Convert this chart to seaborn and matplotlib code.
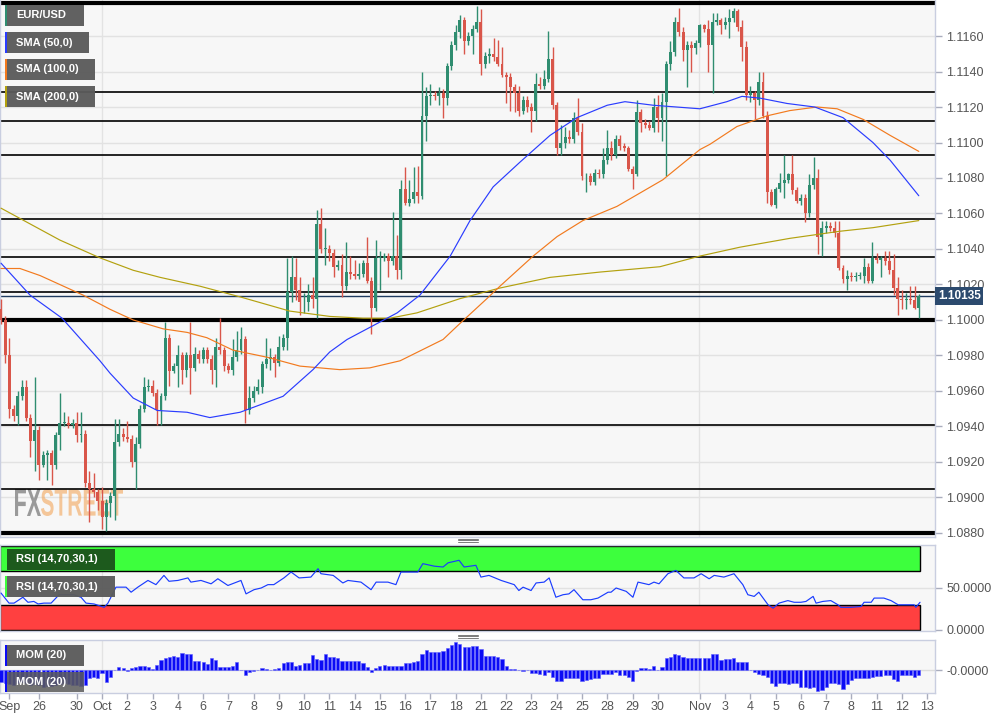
import numpy as np
import pandas as pd
import seaborn as sns
import matplotlib.pyplot as plt
from matplotlib.patches import Rectangle, PathPatch
from matplotlib.lines import Line2D
from matplotlib.textpath import TextPath
from matplotlib.font_manager import FontProperties
from matplotlib.transforms import Affine2D, blended_transform_factory

sns.set_theme(style="white")
plt.rcParams['font.family'] = ['Liberation Sans', 'DejaVu Sans']

# ---- EUR/USD 4h candles ----
first_open = 1.1006
closes = [
    1.1000, 1.0980, 1.0950, 1.0946, 1.0957, 1.0962, 1.0945, 1.0932, 1.0938, 1.0918,
    1.0924, 1.0925, 1.0918, 1.0935, 1.0942, 1.0942, 1.0941, 1.0942, 1.0935, 1.0936,
    1.0908, 1.0905, 1.0903, 1.0898, 1.0889, 1.0897, 1.0901, 1.0931, 1.0936, 1.0934,
    1.0933, 1.0920, 1.0930, 1.0950, 1.0962, 1.0963, 1.0959, 1.0949, 1.0957, 1.0990,
    1.0971, 1.0974, 1.0980, 1.0972, 1.0980, 1.0973, 1.0981, 1.0978, 1.0983, 1.0978,
    1.0972, 1.0985, 1.0983, 1.0974, 1.0972, 1.0979, 1.0983, 1.0989, 1.0949, 1.0956,
    1.0960, 1.0962, 1.0975, 1.0978, 1.0979, 1.0976, 1.0985, 1.0990, 1.1016, 1.1024,
    1.1017, 1.1010, 1.1010, 1.1014, 1.1012, 1.1054, 1.1040, 1.1040, 1.1038, 1.1030,
    1.1031, 1.1019, 1.1027, 1.1026, 1.1025, 1.1026, 1.1032, 1.1022, 1.1007, 1.1035,
    1.1035, 1.1036, 1.1033, 1.1036, 1.1028, 1.1074, 1.1066, 1.1068, 1.1072, 1.1070,
    1.1115, 1.1126, 1.1127, 1.1126, 1.1128, 1.1125, 1.1143, 1.1155, 1.1162, 1.1169,
    1.1157, 1.1160, 1.1164, 1.1168, 1.1144, 1.1149, 1.1150, 1.1148, 1.1144, 1.1138,
    1.1137, 1.1131, 1.1128, 1.1118, 1.1124, 1.1120, 1.1118, 1.1133, 1.1132, 1.1136,
    1.1147, 1.1121, 1.1097, 1.1100, 1.1103, 1.1102, 1.1114, 1.1106, 1.1081, 1.1081,
    1.1078, 1.1083, 1.1082, 1.1090, 1.1097, 1.1093, 1.1102, 1.1098, 1.1097, 1.1085,
    1.1082, 1.1117, 1.1111, 1.1110, 1.1108, 1.1120, 1.1114, 1.1123, 1.1144, 1.1151,
    1.1168, 1.1162, 1.1152, 1.1155, 1.1153, 1.1156, 1.1166, 1.1164, 1.1155, 1.1168,
    1.1169, 1.1166, 1.1168, 1.1170, 1.1174, 1.1165, 1.1154, 1.1127, 1.1128, 1.1124,
    1.1134, 1.1115, 1.1072, 1.1065, 1.1074, 1.1077, 1.1079, 1.1082, 1.1073, 1.1067,
    1.1069, 1.1060, 1.1076, 1.1080, 1.1047, 1.1052, 1.1053, 1.1052, 1.1049, 1.1029,
    1.1023, 1.1025, 1.1024, 1.1025, 1.1025, 1.1030, 1.1022, 1.1035, 1.1034, 1.1035,
    1.1033, 1.1028, 1.1018, 1.1012, 1.1011, 1.1012, 1.1011, 1.1007, 1.10135,
]
# upper / lower wick length beyond the body, in pips
wick_up = [
    6, 2, 10, 2, 3, 4, 4, 2, 30, 2,
    2, 2, 2, 2, 17, 6, 4, 2, 6, 12,
    2, 7, 9, 2, 8, 2, 2, 13, 8, 3,
    9, 2, 4, 2, 6, 4, 3, 2, 2, 9,
    2, 2, 6, 2, 2, 19, 4, 2, 2, 2,
    2, 5, 16, 2, 2, 10, 11, 7, 2, 7,
    3, 5, 2, 12, 5, 2, 6, 2, 19, 12,
    11, 7, 5, 6, 10, 8, 9, 12, 2, 2,
    3, 6, 17, 9, 8, 6, 2, 15, 2, 10,
    4, 2, 2, 25, 12, 5, 12, 11, 14, 15,
    25, 5, 6, 2, 3, 2, 2, 2, 4, 3,
    2, 2, 2, 9, 7, 2, 3, 9, 10, 10,
    2, 2, 2, 4, 2, 2, 2, 6, 4, 5,
    16, 7, 2, 10, 6, 4, 3, 11, 5, 2,
    2, 2, 2, 7, 10, 4, 2, 2, 2, 1,
    2, 7, 2, 2, 2, 5, 7, 5, 2, 6,
    3, 8, 3, 2, 2, 2, 1, 1, 5, 5,
    4, 1, 3, 5, 2, 1, 4, 3, 4, 1,
    6, 6, 3, 2, 1, 6, 14, 1, 11, 2,
    2, 2, 6, 12, 5, 4, 3, 2, 4, 7,
    2, 3, 2, 2, 2, 5, 2, 9, 3, 1,
    4, 6, 9, 6, 5, 3, 7, 8, 1,
]
wick_dn = [
    2, 4, 5, 3, 5, 2, 2, 9, 17, 8,
    1, 14, 11, 2, 8, 2, 2, 2, 4, 4,
    2, 19, 3, 5, 7, 8, 8, 14, 2, 2,
    2, 3, 15, 2, 2, 2, 2, 8, 8, 2,
    8, 1, 12, 8, 4, 15, 2, 2, 2, 2,
    8, 10, 2, 3, 2, 3, 2, 2, 7, 2,
    2, 2, 3, 2, 6, 8, 2, 2, 7, 6,
    6, 7, 6, 5, 5, 11, 2, 9, 5, 6,
    2, 6, 2, 3, 2, 2, 2, 1, 15, 2,
    18, 2, 9, 2, 5, 5, 1, 2, 2, 4,
    2, 14, 5, 2, 5, 11, 4, 2, 3, 3,
    7, 2, 10, 2, 6, 2, 4, 2, 1, 1,
    15, 13, 11, 3, 2, 3, 12, 6, 2, 2,
    2, 2, 4, 4, 3, 2, 2, 2, 2, 9,
    2, 2, 2, 2, 2, 3, 2, 2, 2, 1,
    8, 1, 5, 2, 1, 2, 8, 13, 42, 3,
    2, 2, 6, 21, 13, 3, 2, 2, 15, 27,
    2, 5, 2, 9, 2, 2, 8, 3, 4, 11,
    3, 1, 6, 1, 2, 2, 8, 2, 2, 1,
    2, 5, 2, 2, 10, 11, 3, 2, 2, 1,
    2, 6, 2, 2, 2, 4, 1, 1, 2, 10,
    2, 2, 4, 9, 5, 5, 2, 1, 6,
]

# ---- moving averages (candle index, price) ----
sma50_x = [0, 6.9, 14.5, 23.5, 25.9, 31.4, 37.1, 44.2, 49.6, 56.8, 67.0, 74.1, 78.1, 82.2,
           94.1, 99.5, 106.7, 111.4, 116.9, 123.3, 130.4, 136.8, 144.0, 148.2, 154.9, 166.0,
           172.4, 176.0, 180.3, 186.7, 193.3, 200.0, 207.1, 211.2, 218.0]
sma50_y = [1.1032, 1.1014, 1.1001, 1.0977, 1.0970, 1.0956, 1.0949, 1.0948, 1.0945, 1.0948,
           1.0957, 1.0972, 1.0982, 1.0989, 1.1004, 1.1014, 1.1036, 1.1056, 1.1075, 1.1089,
           1.1104, 1.1114, 1.1121, 1.1123, 1.1121, 1.1119, 1.1123, 1.1126, 1.1125, 1.1122,
           1.1120, 1.1114, 1.1100, 1.1090, 1.1070]
sma100_x = [0, 4.5, 9.3, 19.5, 25.9, 31.4, 38.5, 44.2, 48.9, 55.1, 63.2, 71.0, 80.5, 87.6,
            94.8, 105.0, 109.0, 115.4, 118.5, 126.4, 132.1, 138.2, 146.3, 157.2, 166.0,
            168.4, 174.8, 181.9, 187.4, 193.8, 198.6, 204.8, 211.2, 218.0]
sma100_y = [1.1029, 1.1029, 1.1025, 1.1014, 1.1006, 1.1000, 1.0995, 1.0993, 1.0990, 1.0983,
            1.0979, 1.0974, 1.0972, 1.0973, 1.0977, 1.0989, 1.0998, 1.1012, 1.1019, 1.1036,
            1.1047, 1.1056, 1.1064, 1.1079, 1.1096, 1.1099, 1.1109, 1.1115, 1.1118, 1.1120,
            1.1119, 1.1113, 1.1104, 1.1095]
sma200_x = [0, 14.0, 23.5, 31.4, 37.8, 47.3, 56.8, 68.6, 78.1, 86.0, 92.4, 98.8, 109.0,
            118.5, 130.4, 142.3, 156.5, 166.0, 175.5, 187.4, 199.3, 207.1, 218.0]
sma200_y = [1.1063, 1.1045, 1.1035, 1.1028, 1.1024, 1.1019, 1.1013, 1.1005, 1.1002, 1.1001,
            1.1001, 1.1004, 1.1012, 1.1018, 1.1024, 1.1027, 1.1030, 1.1036, 1.1041, 1.1046,
            1.1050, 1.1052, 1.1056]

# ---- RSI (14) ----
rsi_x = [0, 1.9, 3.1, 5.2, 6.4, 7.8, 8.8, 10.2, 11.9, 13.8, 17.3, 19, 20.2, 22.1, 24.5, 25.4,
         27.3, 29.7, 30.9, 32.5, 34.9, 36.8, 38.7, 39.9, 42, 44.4, 45.1, 47.5, 49.9, 51.5,
         53.9, 57, 58.2, 60.1, 61.8, 63.4, 64.8, 67.2, 68.9, 70.8, 73.6, 75.3, 76, 78.9,
         81.2, 82.4, 85.5, 87.9, 89.1, 91.9, 93.8, 95, 99, 100.2, 102.9, 105, 106.2, 108.8,
         110, 112.8, 114, 115.9, 118.8, 121.9, 123, 124, 125.9, 127.1, 129, 130.2, 131.8,
         133.5, 134.9, 136.1, 138.2, 140.1, 141.8, 144.2, 144.9, 146.1, 148.5, 150.1, 151.3,
         153.9, 155.1, 156.3, 158.4, 160.3, 162.2, 164.6, 166.3, 168.2, 169.4, 171.7, 174.1,
         176.2, 177.4, 178.9, 180, 182.2, 183.4, 184.8, 186.9, 188.4, 190, 191.2, 192.9,
         193.6, 195.2, 197.1, 198.8, 199.5, 201.9, 204.3, 205, 206.7, 207.4, 209.7, 211.4,
         213.1, 215.4, 216.9, 217.3, 218.3]
rsi_v = [44, 32, 32, 39, 33, 34, 31, 32, 32, 42, 42, 39, 32, 31, 27, 32,
         51, 51, 45, 51, 59, 54, 65, 58, 59, 62, 57, 59, 55, 61,
         53, 59, 43, 48, 50, 54, 54, 62, 69, 62, 63, 73, 67, 65,
         56, 59, 57, 48, 57, 57, 54, 69, 69, 79, 76, 75, 80, 83,
         75, 77, 63, 65, 59, 54, 47, 51, 47, 56, 57, 62, 39,
         42, 43, 48, 36, 36, 38, 45, 45, 50, 46, 39, 57,
         54, 57, 55, 67, 71, 62, 62, 67, 61, 65, 63, 67,
         54, 42, 40, 45, 30, 26, 32, 35, 33, 33, 34, 40,
         32, 34, 35, 30, 27, 27, 28, 33, 33, 38, 38, 35,
         30, 30, 30, 27, 33]

# ---- Momentum (20), in units of 0.001 ----
mom = [
    -5.5, -6, -6.5, -7, -6, -5.5, -6, -7, -6.5, -7,
    -8, -7.5, -7.5, -7, -6.5, -6, -6.5, -7, -7, -7.5,
    -7, -4, -3.2, -4, -1.6, -5.6, -3.2, -0.2, 1.6, 1.1,
    -0.3, 0.8, 1.3, 1.9, 1.9, 1.6, 0.3, 2.4, 4.8, 5.6,
    6.3, 6.8, 6.3, 7.9, 7.6, 7.6, 4.3, 4.3, 4, 2.9,
    5.9, 4.8, 1.6, 1.3, 1.6, 2.1, 4, -0.2, -2.4, -0.8,
    -0.5, -0.2, 0.8, 0.3, -0.2, 0.3, 1.1, 3.5, 4, 4,
    2.1, 2.4, 3.5, 3.5, 7.1, 5.2, 4.8, 7.8, 6.3, 6.3,
    5.6, 4.4, 4.4, 4.4, 4.4, 4.4, 3.2, 1.6, -0.8, 1.1,
    1.9, 2.4, 1.9, 1.9, 1.9, 1.9, 3.5, 3.5, 4, 4.4,
    7.5, 9.5, 8.7, 8.7, 8.7, 9.2, 10.3, 11.9, 13.5, 12.2,
    10.8, 10.8, 11.4, 11.4, 10, 6.8, 6.8, 6.8, 6, 5.2,
    2, 0.5, 0.3, -0.2, -0.3, -0.2, -1.6, -1.6, -2.1, -2.4,
    -0.8, -3.2, -5.2, -5.2, -3.7, -3.7, -4, -3.7, -5, -4.8,
    -4.4, -3.7, -3.7, -2, -2, -2, -0.8, -2.4, -2.4, -3.2,
    -5.2, -0.5, 1.1, 1.1, 0.5, 1.9, -0.2, 1.6, 5.6, 6,
    7.6, 7.1, 6, 5.6, 5.6, 5.6, 5.6, 5.6, 5.6, 7.6,
    7.6, 4.8, 5.1, 5.1, 5.9, 4, 3.7, 3.7, -0.2, -0.8,
    -1.9, -2.4, -3.5, -6.3, -7.5, -6.3, -6.3, -6.7, -6.3, -6.3,
    -7.9, -7.9, -8.7, -7.9, -10, -9.5, -7.9, -6.3, -6, -6.8,
    -9, -6.8, -4.8, -3.7, -4, -3.7, -4, -3.5, -2.9, -2.7,
    -2.4, -2.4, -4.3, -5.1, -2.4, -2.4, -2.4, -3.2, -2.4,
]

# horizontal support / resistance levels
levels = [1.11786, 1.11285, 1.11121, 1.10930, 1.10569, 1.10355, 1.10158, 1.1000,
          1.09408, 1.09048, 1.0880]
heavy_levels = [1.11786, 1.1000, 1.0880]
last_price = 1.10135

price_ticks = [1.0880, 1.0900, 1.0920, 1.0940, 1.0960, 1.0980, 1.1000, 1.1020, 1.1040,
               1.1060, 1.1080, 1.1100, 1.1120, 1.1140, 1.1160]
tick_pos = [2, 9, 18, 24, 30, 36, 42, 48, 54, 60, 66, 72, 78, 84, 90, 96, 102, 108, 114,
            120, 126, 132, 138, 144, 150, 156, 166, 172, 178, 184, 190, 196, 202, 208, 214, 220]
tick_lab = ['Sep', '26', '30', 'Oct', '2', '3', '4', '6', '7', '8', '9', '10', '11', '14',
            '15', '16', '17', '18', '21', '22', '23', '24', '25', '28', '29', '30', 'Nov',
            '3', '4', '5', '6', '7', '8', '11', '12', '13']
month_lines = [24, 165.8]

assert len(closes) == len(wick_up) == len(wick_dn) == len(mom), \
    (len(closes), len(wick_up), len(wick_dn), len(mom))
assert len(rsi_x) == len(rsi_v)

GREEN, RED = '#2f8d70', '#d9564a'
n = len(closes)
df = pd.DataFrame({'i': np.arange(n), 'close': closes})
df['open'] = [first_open] + closes[:-1]
df['high'] = df[['open', 'close']].max(axis=1) + np.array(wick_up) * 1e-4
df['low'] = df[['open', 'close']].min(axis=1) - np.array(wick_dn) * 1e-4
df['color'] = np.where(df['close'] >= df['open'], GREEN, RED)

W, H = 1006, 719
XL = (-0.24, 221.85)
fig = plt.figure(figsize=(W / 100, H / 100), dpi=100)
fig.patch.set_facecolor('white')


def panel(top, bottom):
    a = fig.add_axes([0, 1 - bottom / H, 935 / W, (bottom - top) / H])
    a.set_facecolor('#f7f7f7')
    for s in a.spines.values():
        s.set_color('#c9cee0')
        s.set_linewidth(1)
    a.set_xlim(XL)
    a.yaxis.tick_right()
    a.tick_params(axis='y', left=False, right=True, direction='out', length=5, width=1,
                  color='#a9adbd', labelcolor='#555555', labelsize=9, pad=3)
    a.tick_params(axis='x', bottom=False, labelbottom=False)
    for m in month_lines:
        a.axvline(m, color='#e3e3e3', lw=1, zorder=0)
    return a


ax = panel(0, 537)
ax_rsi = panel(545, 631)
ax_mom = panel(640, 693)

# ---- main price panel ----
ax.set_ylim(1.08777, 1.11803)
ax.set_yticks(price_ticks)
ax.set_yticklabels([f"{v:.4f}" for v in price_ticks])
ax.yaxis.grid(True, color='#e2e2e2', lw=1)
ax.set_axisbelow(True)
ax.spines['top'].set_visible(False)

ax.vlines(df['i'], df['low'], df['high'], colors=df['color'], lw=1, zorder=3)
body = np.maximum((df['close'] - df['open']).abs(), 0.4e-4)
ax.bar(df['i'], body, bottom=df[['open', 'close']].min(axis=1), width=0.7,
       color=df['color'], linewidth=0, zorder=4)

for lv in levels:
    ax.axhline(lv, color='black', lw=3 if lv in heavy_levels else 1.2, zorder=2)
ax.axhline(last_price, color='#1f3b60', lw=1, zorder=2)

sns.lineplot(x=sma200_x, y=sma200_y, ax=ax, color='#b3a10f', linewidth=0.85, zorder=5)
sns.lineplot(x=sma100_x, y=sma100_y, ax=ax, color='#f27a1e', linewidth=0.85, zorder=5)
sns.lineplot(x=sma50_x, y=sma50_y, ax=ax, color='#2a3cff', linewidth=0.85, zorder=5)
ax.set_xlabel('')
ax.set_ylabel('')

ax.text(1.003, last_price, f"{last_price:.5f}",
        transform=blended_transform_factory(ax.transAxes, ax.transData),
        ha='left', va='center', color='white', fontsize=8.5, weight='bold',
        bbox=dict(boxstyle='square,pad=0.22', fc='#2c4a6e', ec='none'), clip_on=False)

# FXSTREET watermark, squashed horizontally like the logo
fp = FontProperties(family='Liberation Sans', weight='bold')
x_cursor = 15
for word, fc, al, width_px in [("FX", '#8a8a8a', 0.85, 26), ("STREET", '#f2a65a', 0.6, 82)]:
    tp = TextPath((0, 0), word, size=100, prop=fp)
    ext = tp.get_extents()
    sx = width_px / ext.width
    sy = 27 / ext.height
    tr = (Affine2D().translate(-ext.x0, -ext.y0).scale(sx, sy)
          .translate(x_cursor, H - 516).scale(1 / W, 1 / H) + fig.transFigure)
    ax.add_patch(PathPatch(tp, transform=tr, fc=fc, ec='none', alpha=al, zorder=1))
    x_cursor += width_px

# ---- RSI panel ----
ax_rsi.set_ylim(-1.2, 101.2)
ax_rsi.set_yticks([0, 50])
ax_rsi.set_yticklabels(['0.0000', '50.0000'])
ax_rsi.axhline(50, color='#e2e2e2', lw=1, zorder=0)
x_end = 218.3
ax_rsi.add_patch(Rectangle((XL[0], 70), x_end - XL[0], 30, fc='#3dff3d', ec='black', lw=1, zorder=1))
ax_rsi.add_patch(Rectangle((XL[0], 0), x_end - XL[0], 30, fc='#ff4040', ec='black', lw=1, zorder=1))
sns.lineplot(x=rsi_x, y=rsi_v, ax=ax_rsi, color='#1a3cff', linewidth=0.85, zorder=3)
ax_rsi.set_xlabel('')
ax_rsi.set_ylabel('')

# ---- Momentum panel ----
ax_mom.set_ylim(-0.01095, 0.0143)
ax_mom.set_yticks([0])
ax_mom.set_yticklabels(['-0.0000'])
ax_mom.axhline(0, color='#dcdcdc', lw=1, zorder=0)
ax_mom.bar(df['i'], np.array(mom) * 1e-3, width=0.75, color='#0b0bf5',
           edgecolor='#5c5cff', linewidth=0.4, zorder=3)
ax_mom.set_xticks(tick_pos)
ax_mom.set_xticklabels(tick_lab)
ax_mom.tick_params(axis='x', bottom=True, labelbottom=True, direction='out', length=4,
                   width=1, color='#a9adbd', labelcolor='#555555', labelsize=9, pad=2)


# ---- label tags ----
def tag(x0, y0, x1, y1, text, stripe, fc='#5b5b5b', alpha=0.96):
    fig.add_artist(Rectangle((x0 / W, 1 - y1 / H), (x1 - x0) / W, (y1 - y0) / H,
                             transform=fig.transFigure, fc=fc, ec='none', alpha=alpha))
    fig.add_artist(Rectangle((x0 / W, 1 - y1 / H), 2 / W, (y1 - y0) / H,
                             transform=fig.transFigure, fc=stripe, ec='none'))
    fig.text((x0 + 11) / W, 1 - (y0 + y1) / 2 / H, text, color='white', fontsize=8,
             weight='bold', va='center', ha='left')


tag(5, 5, 84, 26, 'EUR/USD', '#2f8d70')
tag(5, 32, 89, 53, 'SMA (50,0)', '#2a3cff')
tag(5, 59, 95, 80, 'SMA (100,0)', '#f27a1e')
tag(5, 86, 95, 107, 'SMA (200,0)', '#b3a10f')
tag(5, 549, 115, 570, 'RSI (14,70,30,1)', '#3dff3d', fc='#1d5a1d', alpha=1)
tag(5, 576, 115, 597, 'RSI (14,70,30,1)', '#3dff3d')
tag(5, 645, 84, 666, 'MOM (20)', '#0b0bf5')
tag(5, 672, 84, 692, 'MOM (20)', '#0b0bf5', alpha=0.85)

# panel resize handles
for yc in (540, 636):
    for dy in (-1.5, 0, 1.5):
        fig.add_artist(Line2D([458 / W, 478 / W], [1 - (yc + dy) / H] * 2,
                              transform=fig.transFigure, color='#7a7a7a', lw=0.7))

fig.savefig('out.png', dpi=100)
